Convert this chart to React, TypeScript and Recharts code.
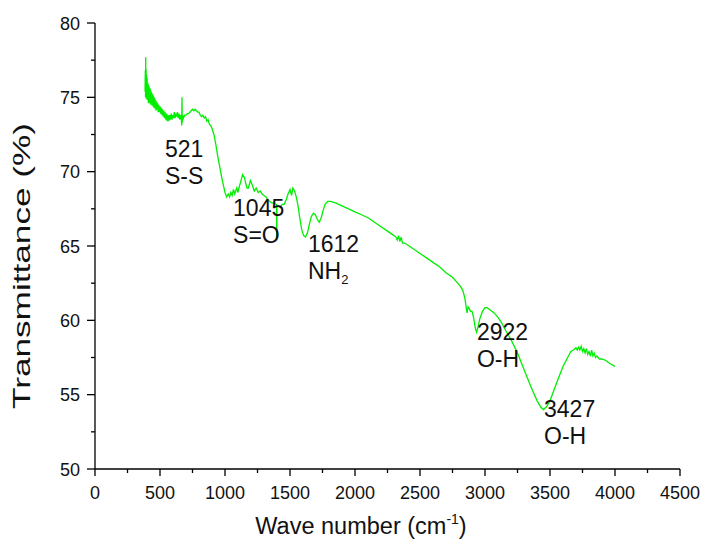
import { LineChart, Line, XAxis, YAxis, ReferenceDot } from 'recharts';

// FTIR spectrum
const waveNumbers = [
  385, 387, 389, 390, 391, 393, 395, 397, 399, 401, 403, 405, 407, 409, 411, 413,
  415, 417, 419, 421, 423, 425, 428, 431, 434, 437, 440, 443, 446, 449, 452, 455,
  458, 461, 464, 467, 470, 474, 478, 482, 486, 490, 495, 500, 505, 510, 515, 520,
  525, 530, 535, 540, 545, 550, 556, 562, 568, 574, 580, 586, 592, 598, 604, 610,
  616, 622, 628, 634, 640, 646, 652, 658, 664, 667, 669, 671, 675, 680, 690, 700,
  710, 720, 730, 740, 750, 760, 770, 780, 790, 800, 810, 820, 830, 840, 850, 860,
  870, 880, 890, 900, 915, 930, 945, 960, 975, 990, 1000, 1013, 1025, 1035, 1045,
  1055, 1065, 1075, 1090, 1100, 1110, 1120, 1135, 1150, 1160, 1170, 1180, 1195,
  1210, 1225, 1240, 1255, 1270, 1285, 1300, 1315, 1330, 1345, 1360, 1375, 1390,
  1396, 1398, 1400, 1410, 1425, 1440, 1455, 1470, 1485, 1500, 1512, 1522, 1535,
  1548, 1560, 1575, 1590, 1605, 1620, 1635, 1650, 1665, 1680, 1695, 1710, 1725,
  1740, 1755, 1770, 1790, 1810, 1850, 1900, 1950, 2000, 2050, 2100, 2150, 2200,
  2250, 2300, 2315, 2325, 2335, 2345, 2355, 2365, 2380, 2400, 2450, 2500, 2550,
  2600, 2650, 2700, 2750, 2780, 2810, 2830, 2845, 2855, 2862, 2870, 2878, 2888,
  2900, 2912, 2925, 2935, 2945, 2960, 2980, 3000, 3015, 3040, 3070, 3100, 3130,
  3160, 3200, 3250, 3300, 3350, 3400, 3430, 3450, 3475, 3500, 3530, 3560, 3600,
  3630, 3660, 3680, 3700, 3710, 3720, 3730, 3740, 3750, 3760, 3770, 3780, 3790,
  3800, 3810, 3820, 3830, 3840, 3850, 3860, 3880, 3900, 3930, 3960, 4000,
];

const transmittance = [
  75.4, 76.8, 75.0, 77.7, 75.2, 76.9, 74.9, 76.5, 75.0, 76.3, 74.8, 76.0, 74.9, 75.9, 74.6, 75.8,
  74.8, 75.7, 74.6, 75.5, 74.7, 75.6, 74.5, 75.4, 74.6, 75.3, 74.4, 75.2, 74.5, 75.1, 74.3, 75.0,
  74.3, 74.9, 74.2, 74.8, 74.1, 74.7, 74.2, 74.6, 74.0, 74.5, 74.0, 74.4, 73.9, 74.3, 73.8, 74.2,
  73.7, 74.1, 73.6, 74.0, 73.5, 73.9, 73.4, 73.8, 73.4, 73.8, 73.5, 73.9, 73.5, 73.8, 73.6, 74.0,
  73.6, 73.9, 73.7, 74.0, 73.6, 73.9, 73.5, 73.8, 73.6, 73.1, 75.0, 73.3, 73.8, 73.6, 73.8, 73.8,
  73.9, 73.9, 74.0, 74.1, 74.2, 74.1, 74.2, 74.1, 74.0, 74.0, 73.8, 73.7, 73.8, 73.6, 73.7, 73.4,
  73.5, 73.2, 73.1, 72.9, 72.5, 71.8, 71.0, 70.3, 69.6, 69.0, 68.6, 68.3, 68.5, 68.3, 68.6,
  68.4, 68.8, 68.5, 68.9, 68.6, 69.0, 69.3, 69.8, 69.6, 69.2, 68.9, 68.9, 69.4,
  69.1, 68.7, 68.9, 68.6, 68.7, 68.5, 68.4, 68.3, 68.1, 68.0, 67.9, 67.9, 67.8,
  67.8, 65.4, 67.7, 67.7, 67.6, 67.8, 67.8, 68.1, 68.5, 68.8, 68.4, 68.9, 68.7,
  68.3, 67.8, 66.9, 66.1, 65.7, 65.6, 65.9, 66.5, 67.0, 67.2, 67.1, 66.8, 66.6,
  66.9, 67.4, 67.8, 68.0, 68.0, 67.9, 67.7, 67.5, 67.3, 67.1, 66.9, 66.6, 66.3,
  66.0, 65.7, 65.6, 65.4, 65.7, 65.3, 65.6, 65.2, 65.2, 65.1, 64.8, 64.5, 64.2,
  63.9, 63.6, 63.2, 62.9, 62.6, 62.3, 62.0, 61.5, 60.9, 60.5, 60.9, 60.8, 60.6,
  60.6, 60.2, 59.5, 59.2, 59.5, 60.1, 60.6, 60.85, 60.85, 60.7, 60.5, 60.2, 59.8,
  59.3, 58.7, 57.8, 56.7, 55.6, 54.6, 54.15, 54.0, 54.2, 54.6, 55.3, 56.0, 56.9,
  57.4, 57.9, 58.0, 58.15, 58.0, 58.2, 58.0, 58.25, 57.9, 58.1, 57.8, 58.1, 57.7,
  57.9, 57.6, 58.0, 57.6, 57.8, 57.5, 57.6, 57.4, 57.4, 57.3, 57.1, 56.9,
];

const xTicks = [0, 250, 500, 750, 1000, 1250, 1500, 1750, 2000, 2250, 2500, 2750, 3000, 3250, 3500, 3750, 4000, 4250, 4500];
const yTicks = [50, 52.5, 55, 57.5, 60, 62.5, 65, 67.5, 70, 72.5, 75, 77.5, 80];

// peak labels: anchor (wavenumber, transmittance at first-line baseline) and the two text lines
const peakAt = [538, 1062, 1638, 2938, 3454];
const peakBase = [70.98, 67.04, 64.6, 58.66, 53.49];
const peakNumber = ['521', '1045', '1612', '2922', '3427'];
const peakGroup = ['S-S', 'S=O', 'NH2', 'O-H', 'O-H'];

const data = waveNumbers.map((wn, i) => ({ wn, t: transmittance[i] }));

const FONT = '"Liberation Sans", Arial, sans-serif';

function XTick({ x, y, payload }: any) {
  const major = payload.value % 500 === 0;
  return (
    <g>
      <line x1={x} x2={x} y1={y} y2={y + (major ? 7 : 4)} stroke="#000" strokeWidth={1.3} />
      {major && (
        <text x={x} y={y + 30} textAnchor="middle" fontFamily={FONT} fontSize={18} fill="#111">
          {payload.value}
        </text>
      )}
    </g>
  );
}

function YTick({ x, y, payload }: any) {
  const major = payload.value % 5 === 0;
  return (
    <g>
      <line x1={x - (major ? 8 : 4)} x2={x} y1={y} y2={y} stroke="#000" strokeWidth={1.3} />
      {major && (
        <text x={x - 15} y={y + 6.5} textAnchor="end" fontFamily={FONT} fontSize={18} fill="#111">
          {payload.value}
        </text>
      )}
    </g>
  );
}

function PeakLabel({ viewBox, top, bottom }: any) {
  const { x, y } = viewBox;
  const sub = bottom === 'NH2';
  return (
    <text fontFamily={FONT} fontSize={23} fill="#111">
      <tspan x={x} y={y}>{top}</tspan>
      <tspan x={x} y={y + 27}>{sub ? 'NH' : bottom}</tspan>
      {sub && <tspan fontSize={13} dy={5}>2</tspan>}
    </text>
  );
}

export default function App() {
  return (
    <div style={{ width: 700, height: 536, background: '#fff' }}>
      <LineChart
        width={700}
        height={536}
        data={data}
        margin={{ top: 15, right: 28, bottom: 15, left: 0 }}
      >
        <XAxis
          type="number"
          dataKey="wn"
          domain={[0, 4500]}
          ticks={xTicks}
          interval={0}
          tickSize={0}
          tickMargin={0}
          tickLine={false}
          axisLine={{ stroke: '#000', strokeWidth: 1.3 }}
          tick={<XTick />}
          height={60}
        />
        <YAxis
          type="number"
          domain={[50, 80]}
          ticks={yTicks}
          interval={0}
          tickSize={0}
          tickMargin={0}
          tickLine={false}
          axisLine={{ stroke: '#000', strokeWidth: 1.3 }}
          tick={<YTick />}
          width={87}
        />
        <Line
          type="linear"
          dataKey="t"
          stroke="#00ee00"
          strokeWidth={1.3}
          dot={false}
          isAnimationActive={false}
        />
        {peakAt.map((wn, i) => (
          <ReferenceDot
            key={peakNumber[i]}
            x={wn}
            y={peakBase[i]}
            r={0}
            stroke="none"
            fill="none"
            label={{ content: (p: any) => <PeakLabel {...p} top={peakNumber[i]} bottom={peakGroup[i]} /> }}
          />
        ))}
        <text x={353} y={526} textAnchor="middle" fontFamily={FONT} fontSize={23.5} fill="#111">
          Wave number (cm<tspan fontSize={14} dy={-10}>-1</tspan><tspan dy={10}>)</tspan>
        </text>
        <text
          transform="translate(22,258) rotate(-90)"
          textAnchor="middle"
          fontFamily={FONT}
          fontSize={24}
          textLength={286}
          lengthAdjust="spacingAndGlyphs"
          fill="#111"
        >
          Transmittance (%)
        </text>
      </LineChart>
    </div>
  );
}
